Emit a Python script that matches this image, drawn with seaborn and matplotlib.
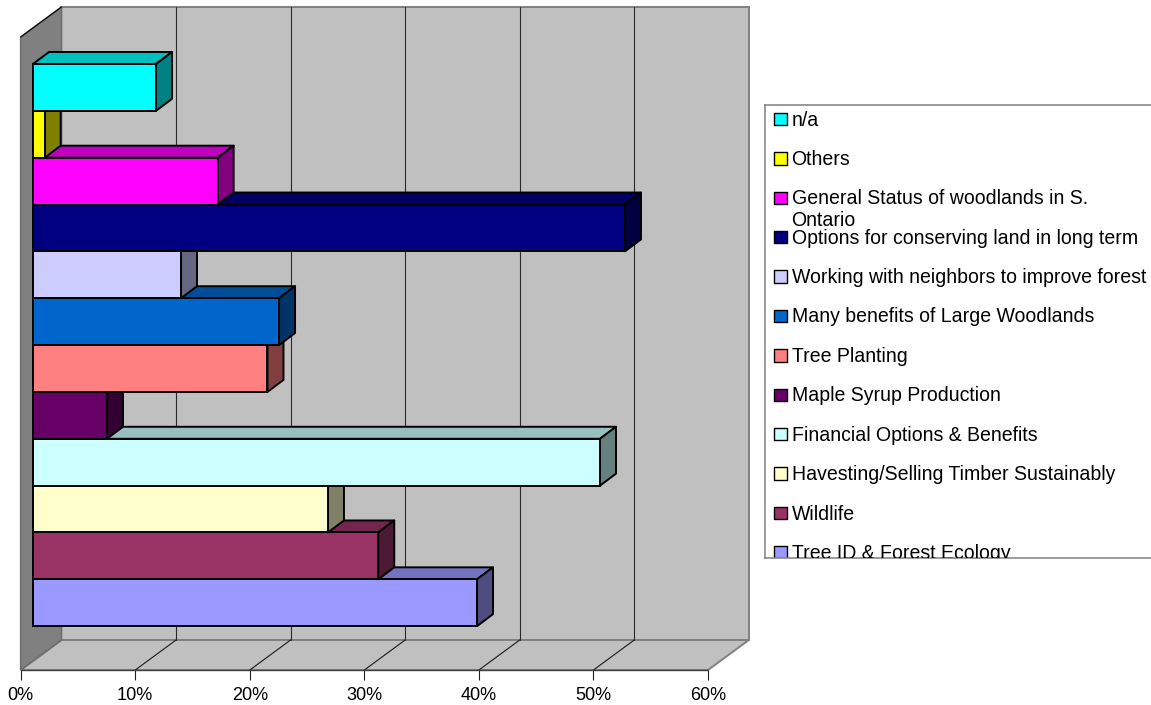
import matplotlib
matplotlib.use("Agg")
import matplotlib.pyplot as plt
from matplotlib.patches import Polygon
import pandas as pd
import seaborn as sns

# Topics, top bar first
topics = ["n/a", "Others", "General Status of woodlands in S.\nOntario",
          "Options for conserving land in long term",
          "Working with neighbors to improve forest",
          "Many benefits of Large Woodlands", "Tree Planting",
          "Maple Syrup Production", "Financial Options & Benefits",
          "Havesting/Selling Timber Sustainably", "Wildlife",
          "Tree ID & Forest Ecology"]
percent = [10.74, 1.02, 16.12, 51.68, 12.92, 21.48, 20.47, 6.46, 49.5, 25.75, 30.14, 38.76]
colours = ["#00FFFF", "#FFFF00", "#FF00FF", "#000080", "#CCCCFF", "#0066CC",
           "#FF8080", "#660066", "#CCFFFF", "#FFFFCC", "#993366", "#9999FF"]
tick_values = [0, 10, 20, 30, 40, 50, 60]

W, H = 1151, 705
PX_PER_PCT = 687.3 / 60
SLOT = 46.85
DEPTH_X, DEPTH_Y = 16.0, 12.0      # bar depth in px
WALL_X, WALL_Y = 40.8, 30.0        # box depth in px
LINE_GAP = 22                      # px between the two lines of the wrapped legend label

sns.set_theme(style="white")
plt.rcParams["font.family"] = ["Liberation Sans", "DejaVu Sans"]

df = pd.DataFrame({"topic": topics, "percent": percent})
fig = plt.figure(figsize=(W / 100, H / 100), dpi=100)


def px_axes(left, top, right, bottom):
    return fig.add_axes([left / W, 1 - bottom / H, (right - left) / W, (bottom - top) / H])


def shade(colour, k):
    r, g, b = matplotlib.colors.to_rgb(colour)
    return (r * k, g * k, b * k)


# ---- walls and floor, y in pixels, x in percent
wall = px_axes(20.7, 7, 708, 670)
wall.set_xlim(0, 60)
wall.set_ylim(670, 7)
dx = WALL_X / PX_PER_PCT
top_back, floor_back = 7, 640
top_front, floor_front = 37, 670
wall.add_patch(Polygon([(dx, top_back), (60 + dx, top_back), (60 + dx, floor_back), (dx, floor_back)],
                       fc="#C0C0C0", ec="#808080", lw=1.4, clip_on=False, zorder=1))
wall.add_patch(Polygon([(0, floor_front), (dx, floor_back), (60 + dx, floor_back), (60, floor_front)],
                       fc="#C0C0C0", ec="#808080", lw=1.4, clip_on=False, zorder=1))
wall.add_patch(Polygon([(0, top_front), (dx, top_back), (dx, floor_back), (0, floor_front)],
                       fc="#808080", ec="#6E6E6E", lw=1.2, clip_on=False, zorder=2))
wall.plot([0, dx], [top_front, top_back], color="black", lw=0.8, clip_on=False, zorder=3)
for t in tick_values[1:-1]:
    wall.plot([t + dx, t + dx], [top_back, floor_back], color="#2A2A2A", lw=0.8, clip_on=False, zorder=2)
    wall.plot([t, t + dx], [floor_front, floor_back], color="#1A1A1A", lw=0.8, clip_on=False, zorder=2)
wall.plot([0, 60], [floor_front, floor_front], color="#404040", lw=1.0, clip_on=False, zorder=3)
wall.set_xticks(tick_values)
wall.set_xticklabels([f"{t}%" for t in tick_values], fontsize=13.1, color="black")
wall.set_yticks([])
wall.tick_params(axis="x", bottom=True, length=7.2, width=0.8, color="#202020", pad=5)
wall.patch.set_visible(False)
sns.despine(ax=wall, left=True, bottom=True)

# ---- bars, shifted into the box by the front gap
ax = px_axes(33, 31, 33 + 687.3, 661)
sns.barplot(data=df, y="topic", x="percent", hue="topic", order=topics, hue_order=topics,
            palette=dict(zip(topics, colours)), saturation=1, dodge=False, width=1.0, legend=False,
            edgecolor="black", linewidth=1.4, ax=ax)
ax.set_xlim(0, 60)
ax.set_ylim((661 - 87.4) / SLOT, (31 - 87.4) / SLOT)
ax.axis("off")

ddx = DEPTH_X / PX_PER_PCT
ddy = DEPTH_Y / SLOT
bars = sorted([p for p in ax.patches if p.get_width() > 0], key=lambda p: p.get_y())
for i, (bar, colour) in enumerate(zip(bars, colours)):
    order = 10 + (len(bars) - i) * 2
    y0 = bar.get_y()
    y1 = y0 + bar.get_height()
    x1 = bar.get_width()
    bar.set_zorder(order + 1)
    bar.set_clip_on(False)
    ax.add_patch(Polygon([(0, y0), (ddx, y0 - ddy), (x1 + ddx, y0 - ddy), (x1, y0)],
                         fc=shade(colour, 0.75), ec="black", lw=1.4, joinstyle="round",
                         clip_on=False, zorder=order))
    ax.add_patch(Polygon([(x1, y0), (x1 + ddx, y0 - ddy), (x1 + ddx, y1 - ddy), (x1, y1)],
                         fc=shade(colour, 0.5), ec="black", lw=1.4, joinstyle="round",
                         clip_on=False, zorder=order))

# ---- legend box runs off the right edge and cuts the last row
leg = px_axes(765, 105, 1165, 558)
leg.set_xticks([])
leg.set_yticks([])
for s in leg.spines.values():
    s.set_color("#808080")
    s.set_linewidth(1.1)
row_y = [119 + 39.4 * i for i in range(len(topics))]
sns.scatterplot(x=[780.5] * len(topics), y=row_y, hue=topics, hue_order=topics, palette=colours,
                marker="s", s=80, edgecolor="black", linewidth=1.0, legend=False, ax=leg)
leg.set_xlim(765, 1165)
leg.set_ylim(558, 105)
leg.set(xlabel="", ylabel="")
for y, label in zip(row_y, topics):
    leg.text(791.5, y + 6.5 + LINE_GAP * label.count("\n"), label, fontsize=14.08, va="baseline",
             ha="left", color="black", linespacing=1.2, clip_on=True)

fig.savefig("out.png", dpi=100)
